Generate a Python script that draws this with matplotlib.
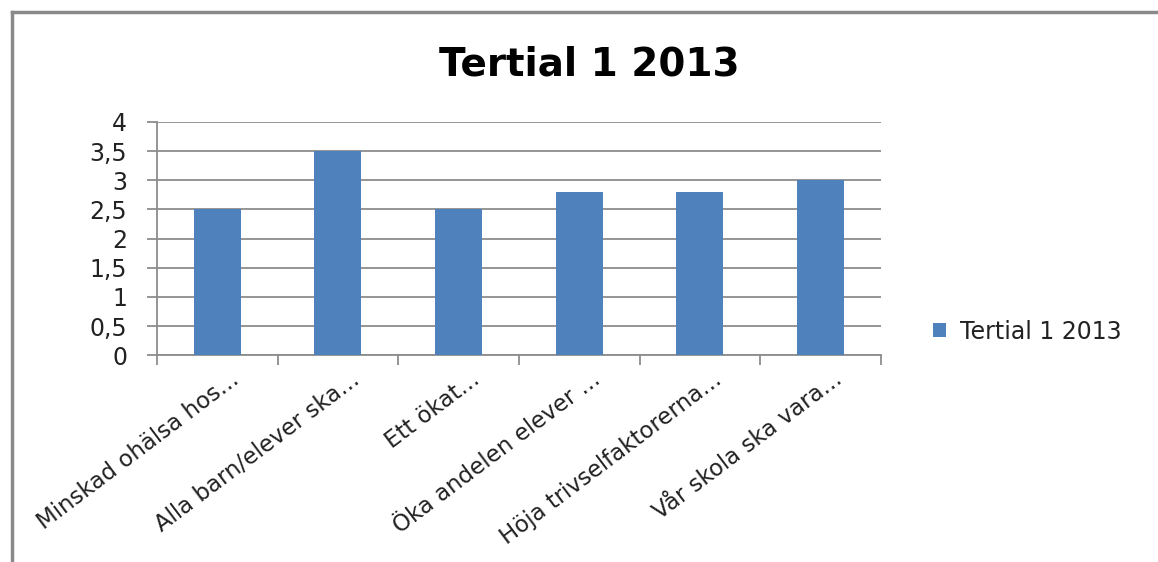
import numpy as np
import matplotlib.pyplot as plt
from matplotlib.ticker import FuncFormatter, FixedLocator
from matplotlib.lines import Line2D
import matplotlib.transforms as mtransforms

categories = ['Minskad ohälsa hos...', 'Alla barn/elever ska...', 'Ett ökat...',
              'Öka andelen elever ...', 'Höja trivselfaktorerna...', 'Vår skola ska vara...']
values = [2.5, 3.5, 2.5, 2.8, 2.8, 3.0]
series_name = 'Tertial 1 2013'
title = 'Tertial 1 2013'

plt.rcParams['font.family'] = ['DejaVu Sans']

fig = plt.figure(figsize=(11.58, 5.62), dpi=100)
ax = fig.add_axes([0.1356, 0.368, 0.625, 0.415])

x = np.arange(len(categories))
bars = ax.bar(x, values, width=0.39, color='#4F81BD', label=series_name, zorder=3)

ax.set_xlim(-0.5, len(categories) - 0.5)
ax.set_ylim(0, 4)
ax.set_yticks(np.arange(0, 4.01, 0.5))
ax.yaxis.set_major_formatter(FuncFormatter(lambda v, p: ('%g' % v).replace('.', ',')))
ax.grid(axis='y', color='#8c8c8c', linewidth=1.3, zorder=0)

ax.set_xticks(x)
ax.set_xticklabels(categories, rotation=37, ha='right', rotation_mode='anchor', fontsize=16.5,
                   color='#222222')
ax.tick_params(axis='x', which='major', length=0, pad=9)
ax.xaxis.set_minor_locator(FixedLocator(np.arange(-0.5, len(categories), 1.0)))
ax.tick_params(axis='x', which='minor', length=7, color='#8c8c8c', width=1.3)
ax.tick_params(axis='y', length=7, color='#8c8c8c', width=1.3, labelsize=17, pad=14.5,
               labelcolor='#222222')

# shift the slanted labels a little to the right, like the original
offset = mtransforms.ScaledTranslation(12 / 100, 0, fig.dpi_scale_trans)
for lab in ax.get_xticklabels():
    lab.set_transform(lab.get_transform() + offset)

for s in ['top', 'right']:
    ax.spines[s].set_visible(False)
for s in ['left', 'bottom']:
    ax.spines[s].set_color('#8c8c8c')
    ax.spines[s].set_linewidth(1.3)

fig.text(0.509, 0.885, title, ha='center', va='center', fontsize=28, fontweight='bold')

fig.legend(handles=[bars], labels=[series_name], loc='center left',
           bbox_to_anchor=(0.787, 0.41), frameon=False, fontsize=17,
           handlelength=0.55, handleheight=0.55, handletextpad=0.6, labelcolor='#222222')

# chart frame (top and left edges visible)
fig.add_artist(Line2D([0.0105, 1.0], [0.978, 0.978], color='#8a8a8a', linewidth=2.5))
fig.add_artist(Line2D([0.0105, 0.0105], [0.0, 0.978], color='#8a8a8a', linewidth=2.5))

fig.savefig('out.png', dpi=100)
